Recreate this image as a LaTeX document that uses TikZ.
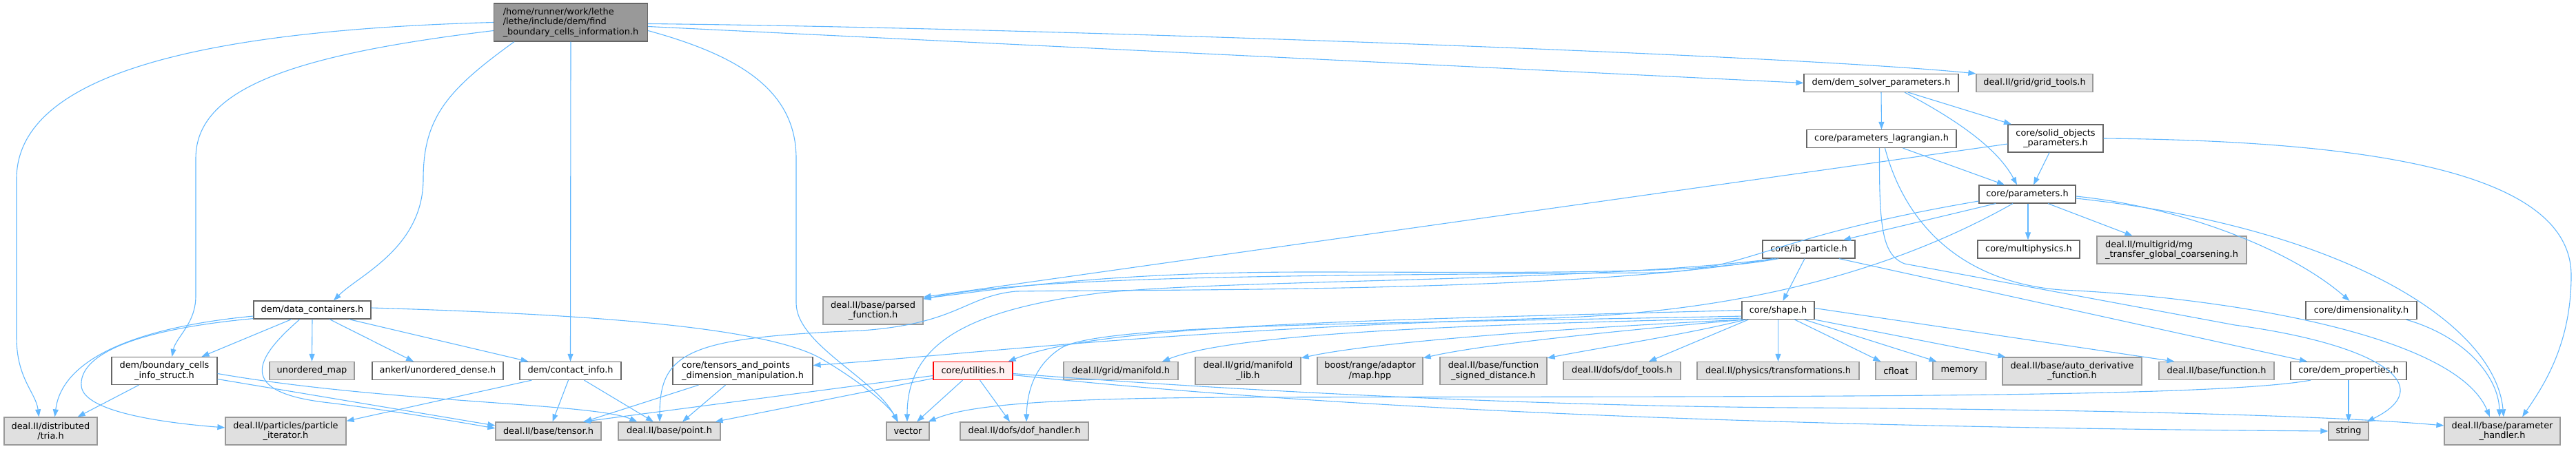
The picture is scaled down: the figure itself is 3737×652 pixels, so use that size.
\documentclass[tikz,border=0pt]{standalone}
\usepackage{fontspec}
\setmainfont{DejaVu Sans}
\usetikzlibrary{positioning,calc,arrows.meta}
\definecolor{edgeblue}{HTML}{63B8FF}
\definecolor{boxline}{HTML}{666666}
\definecolor{extline}{HTML}{999999}
\definecolor{extfill}{HTML}{E0E0E0}
\definecolor{rootfill}{HTML}{999999}
\definecolor{truncfill}{HTML}{FFF0F0}

\begin{document}
\begin{tikzpicture}[
    x=1pt, y=-1pt,
    >={Triangle[length=11pt,width=8pt]},
    every node/.style={font=\fontsize{12.9}{14.4}\selectfont, inner sep=0pt, align=center},
    file/.style={draw=boxline, fill=white, line width=1.2pt, minimum height=26pt},
    ext/.style={draw=extline, fill=extfill, line width=1.2pt, minimum height=26pt},
    trunc/.style={draw=red, fill=truncfill, line width=1.2pt, minimum height=26pt},
    hdr/.style={draw=boxline, fill=rootfill, line width=1.2pt, minimum height=55pt, align=left},
    tall/.style={minimum height=40pt},
    incl/.style={->, draw=edgeblue, line width=1.1pt}
]
    \useasboundingbox (0,0) rectangle (3737,652);

    % Top file
    \node[hdr, minimum width=223pt] (root) at (828,32.5) {/home/runner/work/lethe\\/lethe/include/dem/find\\\_boundary\_cells\_information.h};

    % Parameter files
    \node[file, minimum width=224pt] (dsp) at (2729,120.5) {dem/dem\_solver\_parameters.h};
    \node[ext, minimum width=169pt] (gridtools) at (2951.5,120.5) {deal.II/grid/grid\_tools.h};
    \node[file, minimum width=217pt] (plag) at (2729.5,201.5) {core/parameters\_lagrangian.h};
    \node[file, tall, minimum width=138pt] (solid) at (2982,201) {core/solid\_objects\\\_parameters.h};
    \node[file, minimum width=140pt] (params) at (2941,282) {core/parameters.h};
    \node[file, minimum width=134pt] (ibp) at (2624,362) {core/ib\_particle.h};
    \node[file, minimum width=148pt] (multiphys) at (2943,362) {core/multiphysics.h};
    \node[ext, tall, minimum width=217pt, align=left] (mgtransfer) at (3150.5,363) {deal.II/multigrid/mg\\\_transfer\_global\_coarsening.h};
    \node[ext, tall, minimum width=145pt] (parsed) at (1266.5,451) {deal.II/base/parsed\\\_function.h};
    \node[file, minimum width=105pt] (shape) at (2579.5,450.5) {core/shape.h};
    \node[file, minimum width=161pt] (dimens) at (3425.5,450.5) {core/dimensionality.h};

    % DEM files
    \node[file, minimum width=170pt] (datacont) at (453,450) {dem/data\_containers.h};
    \node[file, tall, minimum width=153pt] (bcinfo) at (238.5,538.5) {dem/boundary\_cells\\\_info\_struct.h};
    \node[ext, minimum width=123pt] (umap) at (452.5,538.5) {unordered\_map};
    \node[file, minimum width=190pt] (ankerl) at (635,538.5) {ankerl/unordered\_dense.h};
    \node[file, minimum width=147pt] (contact) at (827.5,538.5) {dem/contact\_info.h};
    \node[file, tall, minimum width=203pt, align=left] (tensdim) at (1077.5,538.5) {core/tensors\_and\_points\\\_dimension\_manipulation.h};
    \node[trunc, minimum width=115pt] (utils) at (1411.5,538.5) {core/utilities.h};

    % Shape includes
    \node[ext, minimum width=166pt] (manifold) at (1626,538.5) {deal.II/grid/manifold.h};
    \node[ext, tall, minimum width=153pt] (manifoldlib) at (1810.5,538.5) {deal.II/grid/manifold\\\_lib.h};
    \node[ext, tall, minimum width=153pt] (maphpp) at (1987.5,538.5) {boost/range/adaptor\\/map.hpp};
    \node[ext, tall, minimum width=155pt] (fsd) at (2166.5,538.5) {deal.II/base/function\\\_signed\_distance.h};
    \node[ext, minimum width=170pt] (doftools) at (2353,538.5) {deal.II/dofs/dof\_tools.h};
    \node[ext, minimum width=235pt] (transf) at (2579.5,538.5) {deal.II/physics/transformations.h};
    \node[ext, minimum width=59pt] (cfloat) at (2750.5,538.5) {cfloat};
    \node[ext, minimum width=77pt] (memory) at (2842.5,538.5) {memory};
    \node[ext, tall, minimum width=202pt] (autoderiv) at (3006,539) {deal.II/base/auto\_derivative\\\_function.h};
    \node[ext, minimum width=167pt] (function) at (3215.5,538.5) {deal.II/base/function.h};
    \node[file, minimum width=168pt] (demprop) at (3407,538.5) {core/dem\_properties.h};

    % Bottom row
    \node[ext, tall, minimum width=135pt] (tria) at (73.5,626) {deal.II/distributed\\/tria.h};
    \node[ext, tall, minimum width=175pt] (partiter) at (414.5,626) {deal.II/particles/particle\\\_iterator.h};
    \node[ext, minimum width=153pt] (tensor) at (795.5,626) {deal.II/base/tensor.h};
    \node[ext, minimum width=148pt] (point) at (971,626) {deal.II/base/point.h};
    \node[ext, minimum width=62pt] (vector) at (1317,626) {vector};
    \node[ext, minimum width=186pt] (dofhandler) at (1486,626) {deal.II/dofs/dof\_handler.h};
    \node[ext, minimum width=58pt] (string) at (3407,626) {string};
    \node[ext, tall, minimum width=168pt] (paramhandler) at (3630,626) {deal.II/base/parameter\\\_handler.h};

    % Connections from the top file
    \draw[incl] (root.west) .. controls (250,45) and (24,120) .. (24,260) -- (24,490) .. controls (24,550) and (52,570) .. ($(tria.north)+(-17,0)$);
    \draw[incl] ($(root.west)+(0,12)$) .. controls (420,80) and (284,130) .. (284,230) -- (284,430) .. controls (284,470) and (255,490) .. ($(bcinfo.north)+(11,0)$);
    \draw[incl] ($(root.south)+(-82,0)$) .. controls (650,130) and (614,170) .. (614,260) .. controls (614,360) and (520,400) .. ($(datacont.north)+(31,0)$);
    \draw[incl] (root.south) -- (contact.north);
    \draw[incl] ($(root.east)+(0,12)$) .. controls (1070,80) and (1155,130) .. (1155,230) -- (1155,440) .. controls (1155,500) and (1270,550) .. ($(vector.north)+(-15,0)$);
    \draw[incl] ($(root.east)+(0,2)$) .. controls (1500,40) and (2600,80) .. (gridtools.north west);
    \draw[incl] ($(root.east)+(0,6)$) -- (dsp.west);

    % Parameter connections
    \draw[incl] (dsp.south) -- (plag.north);
    \draw[incl] ($(dsp.south)+(34,0)$) .. controls (2850,180) and (2900,220) .. ($(params.north)+(-15,0)$);
    \draw[incl] ($(dsp.south)+(39,0)$) -- ($(solid.north)+(-64,0)$);
    \draw[incl] ($(plag.south)+(31,0)$) -- ($(params.north)+(-33,0)$);
    \draw[incl] ($(plag.south)+(-3,0)$) .. controls (2726,330) and (2730,370) .. (2763,383) -- (3242,472) .. controls (3450,500) and (3540,560) .. ($(string.north east)+(-3,0)$);
    \draw[incl] ($(plag.south)+(5,0)$) .. controls (2765,330) and (2850,410) .. (2990,421) .. controls (3200,430) and (3560,480) .. ($(paramhandler.north)+(-18,0)$);
    \draw[incl] ($(solid.south)+(-9,0)$) -- ($(params.north)+(9,0)$);
    \draw[incl] ($(solid.west)+(0,8)$) -- ($(parsed.north east)+(0,1)$);
    \draw[incl] (solid.east) .. controls (3480,205) and (3730,260) .. (3730,400) .. controls (3730,500) and (3690,560) .. ($(paramhandler.north)+(29,0)$);
    \draw[incl] ($(params.south)+(1,0)$) -- ($(params.south |- multiphys.north)+(1,0)$);
    \draw[incl] ($(params.south)+(30,0)$) -- ($(mgtransfer.north)+(-57,0)$);
    \draw[incl] ($(params.east)+(0,3)$) .. controls (3160,300) and (3320,360) .. ($(dimens.north)+(-17,0)$);
    \draw[incl] ($(params.east)+(0,6)$) .. controls (3400,330) and (3620,470) .. ($(paramhandler.north)+(2,0)$);
    \draw[incl] ($(params.south)+(-46,0)$) -- ($(ibp.north)+(50,0)$);
    \draw[incl] ($(params.west)+(0,10)$) .. controls (2560,345) and (2540,392) .. (2400,396) .. controls (1900,400) and (1500,400) .. ($(parsed.north east)+(0,4)$);
    \draw[incl] ($(params.south)+(-21,0)$) .. controls (2700,420) and (2450,455) .. (2250,462) .. controls (1700,478) and (1400,515) .. ($(tensdim.east)+(0,-8)$);
    \draw[incl] ($(dimens.south)+(65,0)$) .. controls (3580,490) and (3625,550) .. ($(paramhandler.north)+(-4,0)$);

    % IB particle connections
    \draw[incl] ($(ibp.south)+(-6,0)$) -- ($(shape.north)+(7,0)$);
    \draw[incl] ($(ibp.south)+(44,0)$) -- ($(demprop.north)+(-60,0)$);
    \draw[incl] ($(ibp.south)+(-44,0)$) .. controls (2450,400) and (2200,395) .. (1900,395) .. controls (1600,395) and (1450,420) .. ($(parsed.north east)+(0,3)$);
    \draw[incl] ($(ibp.south)+(-48,0)$) .. controls (2300,410) and (1800,405) .. (1600,425) .. controls (1400,450) and (1316,500) .. ($(vector.north)+(-1,0)$);
    \draw[incl] ($(ibp.south)+(-52,0)$) .. controls (2300,425) and (1700,420) .. (1474,423) .. controls (1400,430) and (1390,470) .. (1250,480) .. controls (1000,490) and (957,510) .. ($(point.north)+(-14,0)$);

    % Shape connections
    \draw[incl] (shape.south) -- (transf.north);
    \draw[incl] ($(shape.south)+(24,0)$) -- ($(cfloat.north west)+(8,0)$);
    \draw[incl] ($(shape.south)+(38,0)$) -- ($(memory.north west)+(6,0)$);
    \draw[incl] (shape.south east) -- ($(autoderiv.north west)+(5,0)$);
    \draw[incl] ($(shape.east)+(0,-3)$) -- ($(function.north west)+(23,0)$);
    \draw[incl] ($(shape.south west)+(10,0)$) -- ($(doftools.north)+(39,0)$);
    \draw[incl] ($(shape.south west)+(6,0)$) .. controls (2450,485) and (2320,505) .. ($(fsd.north east)+(0,2)$);
    \draw[incl] ($(shape.south west)+(4,0)$) .. controls (2350,480) and (2150,500) .. ($(maphpp.north east)+(0,2)$);
    \draw[incl] ($(shape.south west)+(2,0)$) .. controls (2300,475) and (2000,495) .. ($(manifoldlib.north east)+(0,2)$);
    \draw[incl] ($(shape.south west)+(0,-2)$) .. controls (2200,470) and (1800,480) .. ($(manifold.north)+(60,0)$);
    \draw[incl] (shape.west) .. controls (2000,465) and (1600,470) .. ($(utils.north east)+(-7,0)$);
    \draw[incl] ($(shape.south west)+(0,-5)$) .. controls (2000,470) and (1600,470) .. (1540,505) .. controls (1500,530) and (1490,570) .. ($(dofhandler.north)+(3,0)$);

    % Utilities and DEM connections
    \draw[incl] ($(utils.west)+(0,7)$) -- ($(tensor.north)+(50,0)$);
    \draw[incl] ($(utils.west)+(0,11)$) -- ($(point.north east)+(-8,0)$);
    \draw[incl] ($(utils.south)+(-15,0)$) -- ($(vector.north)+(13,0)$);
    \draw[incl] ($(utils.south)+(10,0)$) -- ($(dofhandler.north)+(-21,0)$);
    \draw[incl] ($(utils.east)+(0,6)$) .. controls (1900,590) and (2500,620) .. (string.west);
    \draw[incl] ($(utils.east)+(0,4)$) .. controls (1900,575) and (2300,590) .. (2600,592) .. controls (3100,595) and (3400,605) .. ($(paramhandler.west)+(0,-8)$);
    \draw[incl] ($(demprop.south)+(-55,0)$) .. controls (3200,580) and (2500,575) .. (1800,577) .. controls (1500,578) and (1400,590) .. ($(vector.north east)+(-2,0)$);
    \draw[incl] (demprop.south) -- (string.north);

    \draw[incl] ($(datacont.west)+(0,9)$) .. controls (200,475) and (90,520) .. ($(tria.north)+(6,0)$);
    \draw[incl] ($(datacont.south west)+(0,-1)$) .. controls (180,480) and (115,520) .. (118,560) .. controls (120,600) and (250,615) .. ($(partiter.west)+(0,-5)$);
    \draw[incl] ($(datacont.south)+(-30,0)$) -- ($(bcinfo.north)+(54,0)$);
    \draw[incl] ($(datacont.south)+(-18,0)$) .. controls (370,520) and (340,570) .. (478,585) .. controls (560,595) and (650,610) .. ($(tensor.west)+(0,-4)$);
    \draw[incl] (datacont.south) -- (umap.north);
    \draw[incl] ($(datacont.south)+(25,0)$) -- ($(ankerl.north)+(-35,0)$);
    \draw[incl] ($(datacont.south)+(53,0)$) -- ($(contact.north west)+(13,0)$);
    \draw[incl] ($(datacont.east)+(0,-3)$) .. controls (800,455) and (1100,470) .. (1190,520) .. controls (1250,555) and (1290,590) .. ($(vector.north)+(-14,0)$);

    \draw[incl] ($(bcinfo.south)+(-37,0)$) -- ($(tria.north east)+(-29,0)$);
    \draw[incl] ($(bcinfo.east)+(0,12)$) -- ($(tensor.west)+(0,-8)$);
    \draw[incl] ($(bcinfo.east)+(0,4)$) .. controls (560,585) and (860,585) .. ($(point.north west)+(28,0)$);
    \draw[incl] ($(contact.south west)+(18,0)$) -- ($(partiter.north east)+(0,6)$);
    \draw[incl] ($(contact.south)+(-3,0)$) -- ($(tensor.north)+(6,0)$);
    \draw[incl] ($(contact.south)+(20,0)$) -- ($(point.north)+(-23,0)$);
    \draw[incl] ($(tensdim.south)+(-64,0)$) -- ($(tensor.north east)+(-25,0)$);
    \draw[incl] ($(tensdim.south)+(-25,0)$) -- ($(point.north)+(19,0)$);

\end{tikzpicture}
\end{document}
